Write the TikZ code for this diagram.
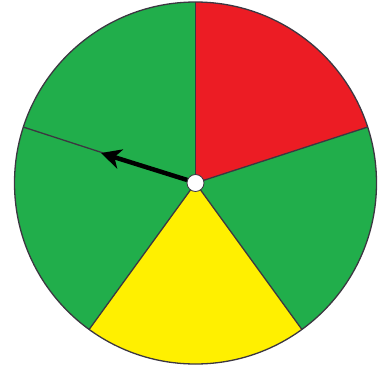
\documentclass[tikz,border=0pt]{standalone}
\usetikzlibrary{arrows.meta}
\definecolor{wgreen}{RGB}{33,174,75}
\definecolor{wred}{RGB}{236,28,36}
\definecolor{wyellow}{RGB}{255,240,0}
\definecolor{wedge}{RGB}{60,55,65}
\begin{document}
\begin{tikzpicture}[x=1pt,y=-1pt,
  sector/.style={draw=wedge,line width=1.3pt,line join=round},
  hub/.style={circle,fill=white,draw=wedge,line width=0.8pt,minimum size=17pt,inner sep=0pt},
  pointer/.style={draw=black,line width=4.5pt,-{Stealth[length=20pt,width=20pt,inset=6pt]}}]
\useasboundingbox (0,0) rectangle (379,369);
\coordinate (C) at (195.5,183);
\def\R{181}
\fill[wred]    (C) -- ++(-18:\R) arc[start angle=-18,end angle=-90,radius=\R] -- cycle;
\fill[wgreen]  (C) -- ++(54:\R) arc[start angle=54,end angle=-18,radius=\R] -- cycle;
\fill[wyellow] (C) -- ++(126:\R) arc[start angle=126,end angle=54,radius=\R] -- cycle;
\fill[wgreen]  (C) -- ++(198:\R) arc[start angle=198,end angle=126,radius=\R] -- cycle;
\fill[wgreen]  (C) -- ++(270:\R) arc[start angle=270,end angle=198,radius=\R] -- cycle;
\foreach \a in {-90,-18,54,126,198} \draw[sector] (C) -- ++(\a:\R);
\draw[sector] (C) circle[radius=\R];
\node[hub] (H) at (C) {};
\coordinate (T) at (101,153);
\draw[pointer] (H.160) -- (T);
\end{tikzpicture}
\end{document}
